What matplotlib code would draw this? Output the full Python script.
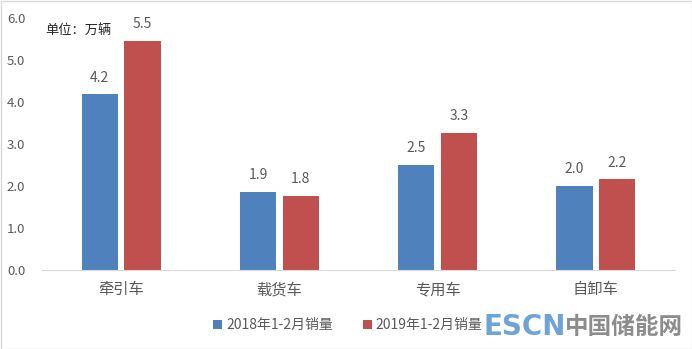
import matplotlib
matplotlib.use("Agg")
import matplotlib.pyplot as plt
import numpy as np
from matplotlib.patches import Rectangle

plt.rcParams['font.family'] = ['Noto Sans CJK SC', 'DejaVu Sans']

categories = ['牵引车', '载货车', '专用车', '自卸车']
series_names = ['2018年1-2月销量', '2019年1-2月销量']
sales_2018 = [4.18, 1.86, 2.51, 2.01]
sales_2019 = [5.46, 1.76, 3.27, 2.16]
yticks = [0.0, 1.0, 2.0, 3.0, 4.0, 5.0, 6.0]

blue = '#4f81bd'
red = '#c0504d'
txt = '#595959'

fig = plt.figure(figsize=(6.92, 3.49), dpi=100)
ax = fig.add_axes([42/692, 1-270/349, (675-42)/692, (270-18)/349])

x = np.arange(len(categories))
w = 0.23
off = 0.135
b1 = ax.bar(x - off, sales_2018, w, color=blue, label=series_names[0])
b2 = ax.bar(x + off, sales_2019, w, color=red, label=series_names[1])
for bars, vals in ((b1, sales_2018), (b2, sales_2019)):
    for r, v in zip(bars, vals):
        ax.annotate(f'{v:.1f}', (r.get_x() + r.get_width()/2, v), xytext=(0, 7),
                    textcoords='offset points', ha='center', va='bottom',
                    fontsize=10, color=txt)

ax.set_xlim(-0.5, len(categories) - 0.5)
ax.set_ylim(0, 6.0)
ax.set_yticks(yticks)
ax.set_yticklabels([f'{t:.1f}' for t in yticks], fontsize=9.5, color=txt)
ax.set_xticks(x)
ax.set_xticklabels(categories, fontsize=11, color=txt)
ax.tick_params(axis='both', length=0)
ax.tick_params(axis='x', pad=8)
ax.tick_params(axis='y', pad=12)
for s in ['top', 'right', 'left']:
    ax.spines[s].set_visible(False)
ax.spines['bottom'].set_color('#d9d9d9')

fig.text(45/692, 1-30/349, '单位：万辆', fontsize=9.5, color='#262626', va='center')

leg = fig.legend(handles=[b1, b2], loc='center', bbox_to_anchor=(348/692, 1-325/349),
                 ncol=2, frameon=False, fontsize=10, handlelength=0.6, handleheight=0.6,
                 handletextpad=0.3, columnspacing=2.2)
for t in leg.get_texts():
    t.set_color(txt)

# watermark
fig.text(484/692, 1-327/349, 'ESCN', fontsize=20, fontweight='bold', color='#6fa3d8',
         va='center', family=['DejaVu Sans'])
fig.text(565/692, 1-327/349, '中国储能网', fontsize=17, fontweight='bold', color='#8c8c8c',
         va='center')

fig.patches.append(Rectangle((0.5/692, 0.5/349), 1-1/692, 1-1/349, transform=fig.transFigure,
                             fill=False, edgecolor='#d9d9d9', linewidth=1))

fig.savefig('out.png', dpi=100)
